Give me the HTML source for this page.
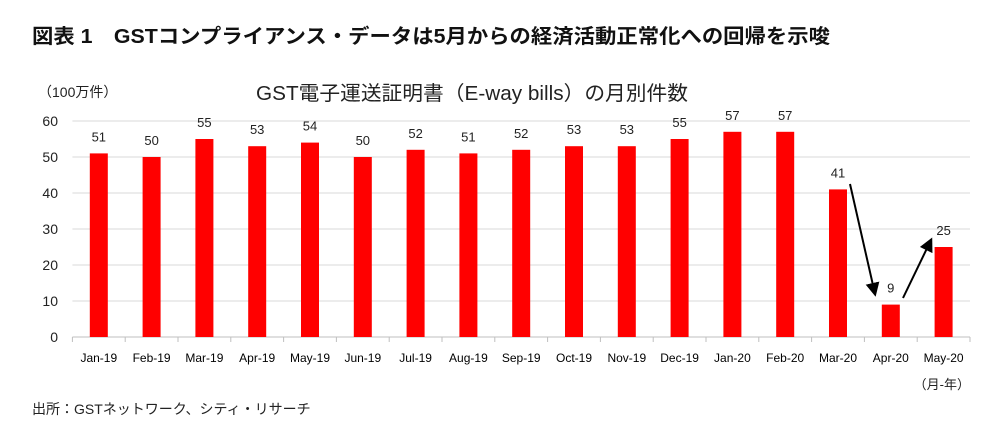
<!DOCTYPE html>
<html><head><meta charset="utf-8"><style>
body{margin:0;background:#fff;}
svg text{font-family:"Liberation Sans","Noto Sans CJK JP",sans-serif;}
</style></head><body>
<svg width="1000" height="432" xmlns="http://www.w3.org/2000/svg">
<defs><marker id="ah" viewBox="0 0 10 10" refX="8" refY="5" markerWidth="7" markerHeight="7" orient="auto"><path d="M0,0L10,5L0,10z" fill="#000"/></marker></defs>
<text x="32" y="43" font-size="20" font-weight="bold" fill="#111" textLength="798" lengthAdjust="spacingAndGlyphs">図表 1　GSTコンプライアンス・データは5月からの経済活動正常化への回帰を示唆</text>
<text x="38" y="97" font-size="14" fill="#222">（100万件）</text>
<text x="472" y="100" font-size="20" fill="#222" text-anchor="middle" textLength="432" lengthAdjust="spacingAndGlyphs">GST電子運送証明書（E-way bills）の月別件数</text>
<g id="grid"></g><g id="bars"></g>
<line x1="850" y1="184" x2="875" y2="294" stroke="#000" stroke-width="2" marker-end="url(#ah)"/>
<line x1="903" y1="298" x2="931" y2="240" stroke="#000" stroke-width="2" marker-end="url(#ah)"/>
<text x="970" y="389" font-size="13" fill="#222" text-anchor="end">（月-年）</text>
<text x="32" y="414" font-size="14" fill="#222">出所：GSTネットワーク、シティ・リサーチ</text>
</svg>
<script>
const categories=["Jan-19","Feb-19","Mar-19","Apr-19","May-19","Jun-19","Jul-19","Aug-19","Sep-19","Oct-19","Nov-19","Dec-19","Jan-20","Feb-20","Mar-20","Apr-20","May-20"];
const values=[51,50,55,53,54,50,52,51,52,53,53,55,57,57,41,9,25];
const yTicks=[0,10,20,30,40,50,60];
const NS="http://www.w3.org/2000/svg";
const x0=72.4,x1=970,y0=337,pxPer=3.6;
const step=(x1-x0)/categories.length;
const xc=i=>x0+step*(i+0.5);
const y=v=>y0-v*pxPer;
function mk(t,a,p){const e=document.createElementNS(NS,t);for(const k in a)e.setAttribute(k,a[k]);p.appendChild(e);return e;}
const g=document.getElementById('grid'),b=document.getElementById('bars');
yTicks.forEach(t=>{
 if(t>0){const l=mk('line',{x1:x0,x2:x1,y1:y(t),y2:y(t),stroke:'#d9d9d9','stroke-width':1},g);
 
 }
 const tx=mk('text',{x:58,y:y(t)+5,'font-size':14,fill:'#222','text-anchor':'end'},g);tx.textContent=t;
 
 
});
const ax=mk('line',{x1:x0,x2:x1,y1:y0,y2:y0,stroke:'#bfbfbf','stroke-width':1},g);


categories.forEach((c,i)=>{
 const tk=mk('line',{x1:x0+step*i,x2:x0+step*i,y1:y0,y2:y0+5,stroke:'#bfbfbf'},g);
 
 
 const r=mk('rect',{x:xc(i)-9,y:y(values[i]),width:18,height:values[i]*pxPer,fill:'#ff0000'},b);
 
 
 const vl=mk('text',{x:xc(i),y:y(values[i])-12,'font-size':13,fill:'#222','text-anchor':'middle'},b);vl.textContent=values[i];
 
 
 const cl=mk('text',{x:xc(i),y:362,'font-size':12,fill:'#000','text-anchor':'middle'},b);cl.textContent=c;
 
 
});
const tk=mk('line',{x1:x1,x2:x1,y1:y0,y2:y0+5,stroke:'#bfbfbf'},g);


</script>
</body></html>
